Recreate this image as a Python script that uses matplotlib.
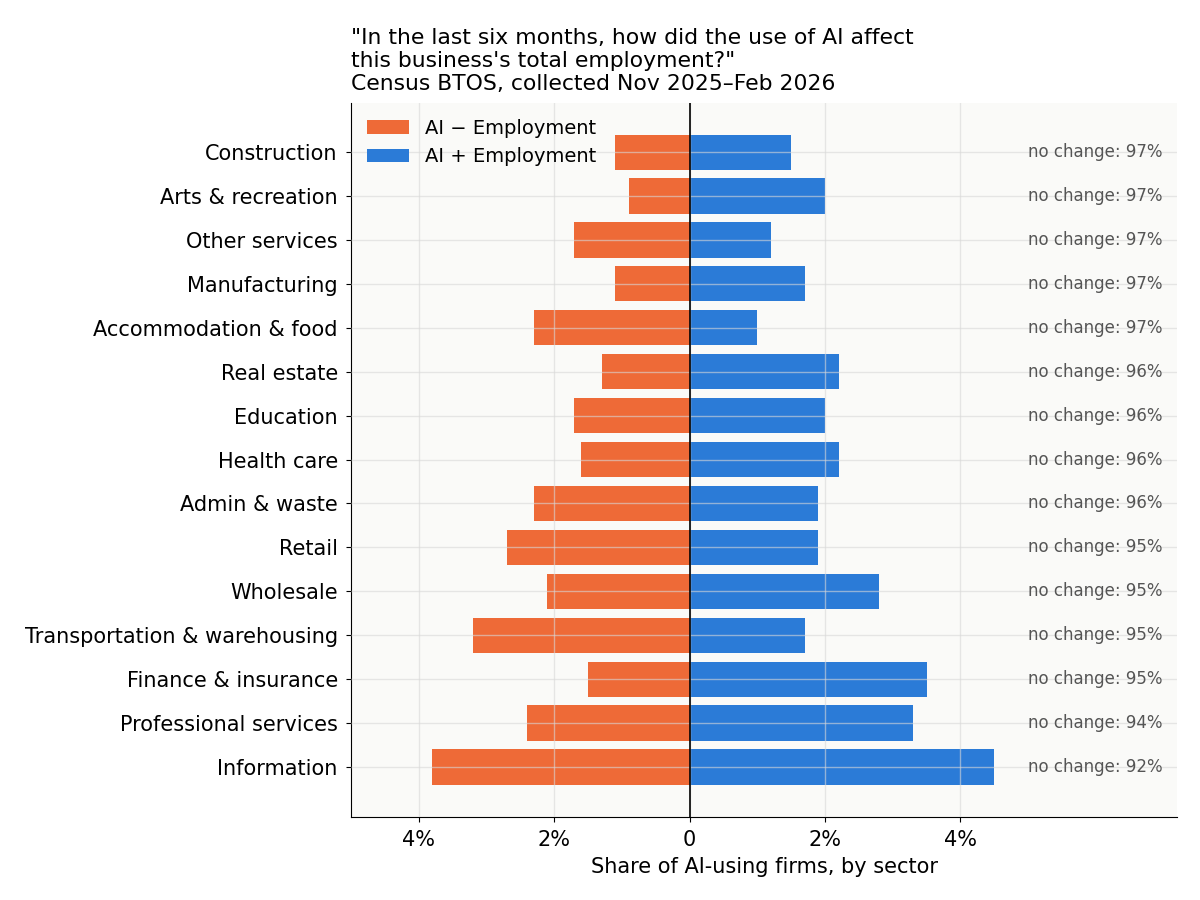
import matplotlib
matplotlib.use('Agg')
import matplotlib.pyplot as plt
import numpy as np

sectors = ['Information', 'Professional services', 'Finance & insurance',
           'Transportation & warehousing', 'Wholesale', 'Retail', 'Admin & waste',
           'Health care', 'Education', 'Real estate', 'Accommodation & food',
           'Manufacturing', 'Other services', 'Arts & recreation', 'Construction']
ai_minus = [3.8, 2.4, 1.5, 3.2, 2.1, 2.7, 2.3, 1.6, 1.7, 1.3, 2.3, 1.1, 1.7, 0.9, 1.1]
ai_plus = [4.5, 3.3, 3.5, 1.7, 2.8, 1.9, 1.9, 2.2, 2.0, 2.2, 1.0, 1.7, 1.2, 2.0, 1.5]
no_change = [92, 94, 95, 95, 95, 95, 96, 96, 96, 96, 97, 97, 97, 97, 97]

tick_vals = [-4, -2, 0, 2, 4]
tick_labels = ['4%', '2%', '0', '2%', '4%']

fig = plt.figure(figsize=(12, 9), dpi=100)
ax = fig.add_axes([0.2925, 0.0922, 0.6885, 0.7934])
ax.set_facecolor('#fafaf8')

y = np.arange(len(sectors))
ax.barh(y, [-v for v in ai_minus], height=0.8, color='#ee6a37', label='AI \u2212 Employment', zorder=2)
ax.barh(y, ai_plus, height=0.8, color='#2b7bd7', label='AI + Employment', zorder=2)
ax.axvline(0, color='black', linewidth=1.2, zorder=3)

for yi, nc in zip(y, no_change):
    ax.text(5.0, yi, 'no change: {}%'.format(nc), va='center', ha='left',
            fontsize=12, color='#555555', zorder=4)

ax.set_yticks(y)
ax.set_yticklabels(sectors, fontsize=15)
ax.set_xticks(tick_vals)
ax.set_xticklabels(tick_labels, fontsize=15)
ax.tick_params(axis='y', pad=6)
ax.tick_params(axis='x', pad=6)
ax.set_xlim(-5, 7.2)
ax.set_ylim(-1.14, 15.12)
ax.set_xlabel('Share of AI-using firms, by sector', fontsize=15, labelpad=5)
ax.grid(color='#d8d8d8', alpha=0.6, linewidth=1, zorder=2.5)
ax.set_axisbelow(False)
for s in ['top', 'right']:
    ax.spines[s].set_visible(False)
ax.set_title('"In the last six months, how did the use of AI affect\nthis business\'s total employment?"\nCensus BTOS, collected Nov 2025\u2013Feb 2026',
             loc='left', fontsize=15.75, pad=9)
ax.legend(loc='upper left', frameon=False, fontsize=14, handlelength=2.2,
          borderaxespad=0.4)

fig.savefig('out.png', dpi=100)
